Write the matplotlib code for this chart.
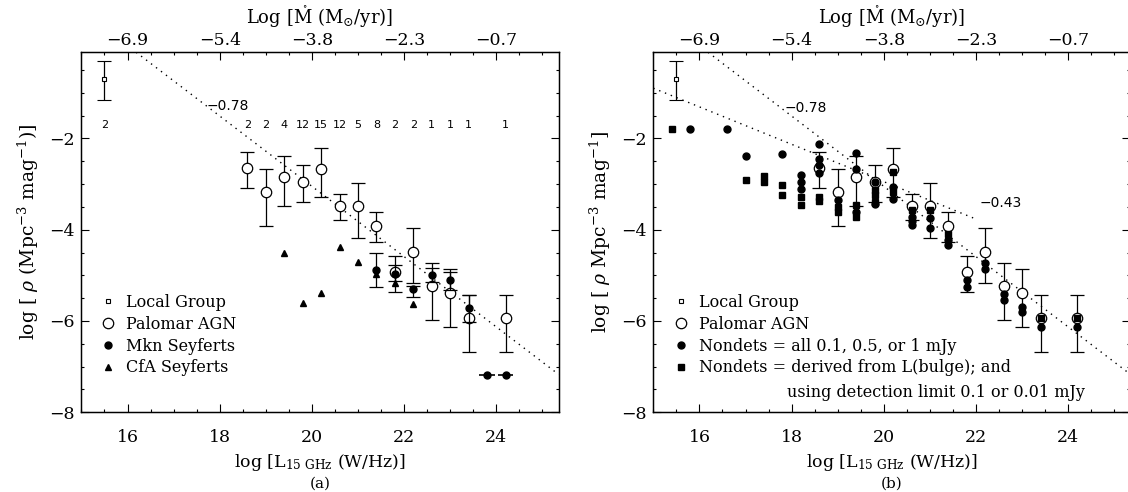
import matplotlib.pyplot as plt
from matplotlib.ticker import MultipleLocator
from matplotlib.lines import Line2D

plt.rcParams['font.family'] = ['DejaVu Serif']
plt.rcParams['mathtext.fontset'] = 'dejavuserif'

# ---- data ----
# Local Group
lg_L = [15.5]
lg_rho = [-0.69]
lg_hi = [-0.31]
lg_lo = [-1.16]
lg_count = 2

# Palomar AGN (same in both panels)
pal_L = [18.6, 19.0, 19.4, 19.8, 20.2, 20.6, 21.0, 21.4, 21.8, 22.2, 22.6, 23.0, 23.4, 24.2]
pal_rho = [-2.64, -3.18, -2.84, -2.95, -2.67, -3.48, -3.48, -3.92, -4.93, -4.49, -5.23, -5.38, -5.94, -5.94]
pal_hi = [-2.29, -2.67, -2.38, -2.58, -2.21, -3.21, -2.97, -3.62, -4.57, -3.97, -4.73, -4.87, -5.44, -5.44]
pal_lo = [-3.08, -3.92, -3.49, -3.39, -3.28, -3.78, -4.18, -4.27, -5.36, -5.16, -5.98, -6.13, -6.69, -6.69]
pal_count = [2, 2, 4, 12, 15, 12, 5, 8, 2, 2, 1, 1, 1, 1]

# Markarian Seyferts
mkn_L = [21.4, 21.8, 22.2, 22.6, 23.0, 23.4]
mkn_rho = [-4.89, -4.98, -5.31, -5.00, -5.11, -5.71]
mkn_hi = [-4.51, -4.77, -5.24, -4.85, -4.92, -5.44]
mkn_lo = [-5.25, -5.13, -5.47, -5.15, -5.33, -6.02]
mkn_lim_L = [23.8, 24.2]
mkn_lim_rho = [-7.19, -7.19]

# CfA Seyferts
cfa_L = [19.4, 19.8, 20.2, 20.6, 21.0, 21.4, 21.8, 22.2]
cfa_rho = [-4.52, -5.60, -5.38, -4.38, -4.71, -4.98, -5.16, -5.62]

# panel (b): non-detection treatments
nd_all_L = [15.8, 16.6, 17.0, 17.8, 18.2, 18.2, 18.2, 18.6, 18.6, 18.6, 18.6, 19.0,
            19.4, 19.4, 19.4, 19.8, 19.8, 20.2, 20.2, 20.6, 20.6, 20.6, 21.0, 21.0,
            21.4, 21.4, 21.8, 21.8, 22.2, 22.2, 22.6, 22.6, 23.0, 23.0, 23.4, 24.2]
nd_all_rho = [-1.80, -1.80, -2.38, -2.34, -2.80, -2.95, -3.11, -2.13, -2.45, -2.59, -2.75, -3.35,
              -2.31, -2.67, -3.61, -2.95, -3.44, -3.06, -3.32, -3.72, -3.81, -3.90, -3.75, -3.97,
              -4.22, -4.33, -5.11, -5.25, -4.74, -4.87, -5.40, -5.55, -5.69, -5.80, -6.13, -6.13]
nd_bulge_L = [15.4, 17.0, 17.4, 17.4, 17.8, 17.8, 18.2, 18.2, 18.6, 18.6, 19.0, 19.0,
              19.4, 19.4, 19.8, 19.8, 19.8, 20.2, 20.2, 20.6, 21.0, 21.4, 23.4, 24.2]
nd_bulge_rho = [-1.80, -2.91, -2.83, -2.96, -3.02, -3.24, -3.29, -3.45, -3.29, -3.37, -3.50, -3.61,
                -3.46, -3.73, -3.13, -3.24, -3.40, -2.74, -3.17, -3.57, -3.57, -4.10, -5.94, -5.94]

# fitted slopes
fit1_L = [15.0, 25.35]
fit1_rho = [0.80, -7.17]      # slope -0.78
fit2_L = [15.0, 22.03]
fit2_rho = [-0.90, -3.78]     # slope -0.43

bottom_ticks = [16, 18, 20, 22, 24]
top_labels = ['\u22126.9', '\u22125.4', '\u22123.8', '\u22122.3', '\u22120.7']

SANS = ['DejaVu Sans']


def errs(v, hi, lo):
    return [[a - b for a, b in zip(v, lo)], [b - a for a, b in zip(v, hi)]]


def setup(ax, ylab, tag, ylab_x):
    ax.set_xlim(15, 25.35)
    ax.set_ylim(-8, -0.1)
    ax.set_xticks(bottom_ticks)
    ax.set_yticks([-8, -6, -4, -2])
    ax.xaxis.set_minor_locator(MultipleLocator(0.5))
    ax.yaxis.set_minor_locator(MultipleLocator(0.5))
    ax.tick_params(which='both', direction='in', right=True, top=False, width=0.8)
    ax.tick_params(which='major', length=5.5, labelsize=12.5)
    ax.tick_params(which='minor', length=2.5)
    ax.tick_params(axis='x', pad=12)
    ax.tick_params(axis='y', pad=5)
    for s in ax.spines.values():
        s.set_linewidth(1.0)
    top = ax.twiny()
    top.set_xlim(ax.get_xlim())
    top.set_xticks(bottom_ticks)
    top.set_xticklabels(top_labels)
    top.xaxis.set_minor_locator(MultipleLocator(0.5))
    top.tick_params(which='both', direction='in', width=0.8, pad=2)
    top.tick_params(which='major', length=5.5, labelsize=12.5)
    top.tick_params(which='minor', length=2.5)
    ax.text(0.5, 1.098, r'Log [$\mathring{\rm M}$ (M$_{\odot}$/yr)]', transform=ax.transAxes,
            ha='center', va='center', fontsize=13)
    ax.text(0.5, -0.14, r'log [L$_{\rm 15\ GHz}$ (W/Hz)]', transform=ax.transAxes,
            ha='center', va='center', fontsize=12.5)
    ax.text(0.5, -0.197, tag, transform=ax.transAxes, ha='center', va='center', fontsize=11)
    ax.text(ylab_x, 0.5, ylab, transform=ax.transAxes, rotation=90,
            ha='center', va='center', fontsize=13.5)


fig = plt.figure(figsize=(11.28, 4.92), dpi=100)
axa = fig.add_axes([0.0722, 0.162, 0.423, 0.733])
axb = fig.add_axes([0.5792, 0.162, 0.423, 0.733])

setup(axa, r'log [ $\rho$ (Mpc$^{-3}$ mag$^{-1}$)]', '(a)', -0.112)
setup(axb, r'log [ $\rho$ Mpc$^{-3}$ mag$^{-1}$]', '(b)', -0.110)

ebkw = dict(ecolor='black', elinewidth=0.9, capsize=5, capthick=0.9, linestyle='none')

for ax in (axa, axb):
    ax.plot(fit1_L, fit1_rho, color='black', lw=1.0, linestyle=(0, (1, 3.5)))
    ax.errorbar(lg_L, lg_rho, yerr=errs(lg_rho, lg_hi, lg_lo), fmt='s', ms=3.5,
                mfc='white', mec='black', mew=0.8, **ebkw)
    ax.errorbar(pal_L, pal_rho, yerr=errs(pal_rho, pal_hi, pal_lo), fmt='o', ms=7.5,
                mfc='white', mec='black', mew=0.9, zorder=2, **ebkw)

# ---- panel (a) ----
axa.errorbar(mkn_L, mkn_rho, yerr=errs(mkn_rho, mkn_hi, mkn_lo), fmt='o', ms=5,
             mfc='black', mec='black', zorder=3, **ebkw)
axa.errorbar(mkn_lim_L, mkn_lim_rho, xerr=0.17, fmt='o', ms=5, color='black',
             elinewidth=1.2, capsize=0, linestyle='none', zorder=3)
axa.plot(cfa_L, cfa_rho, '^', ms=4, color='black', zorder=3)
axa.text(lg_L[0], -1.71, str(lg_count), ha='center', va='center', fontsize=8, family=SANS)
for x, n in zip(pal_L, pal_count):
    axa.text(x, -1.71, str(n), ha='center', va='center', fontsize=8, family=SANS)
axa.text(17.72, -1.29, '\u22120.78', ha='left', va='center', fontsize=10, family=SANS)

leg_kw = dict(loc='upper left', frameon=False, fontsize=11.5, borderpad=0, borderaxespad=0,
              handlelength=1.0, handletextpad=0.6, labelspacing=0.3)

leg_a = [Line2D([], [], ls='none', marker='s', ms=3.5, mfc='white', mec='black', mew=0.8),
         Line2D([], [], ls='none', marker='o', ms=7.5, mfc='white', mec='black', mew=0.9),
         Line2D([], [], ls='none', marker='o', ms=5, color='black'),
         Line2D([], [], ls='none', marker='^', ms=4, color='black')]
axa.legend(leg_a, ['Local Group', 'Palomar AGN', 'Mkn Seyferts', 'CfA Seyferts'],
           bbox_to_anchor=(0.039, 0.328), **leg_kw)

# ---- panel (b) ----
axb.plot(fit2_L, fit2_rho, color='black', lw=1.0, linestyle=(0, (1, 3.5)))
axb.plot(nd_all_L, nd_all_rho, 'o', ms=5, color='black', zorder=3)
axb.plot(nd_bulge_L, nd_bulge_rho, 's', ms=4, color='black', zorder=3)
axb.text(17.84, -1.33, '\u22120.78', ha='left', va='center', fontsize=10, family=SANS)
axb.text(22.07, -3.41, '\u22120.43', ha='left', va='center', fontsize=10, family=SANS)

leg_b = [Line2D([], [], ls='none', marker='s', ms=3.5, mfc='white', mec='black', mew=0.8),
         Line2D([], [], ls='none', marker='o', ms=7.5, mfc='white', mec='black', mew=0.9),
         Line2D([], [], ls='none', marker='o', ms=5, color='black'),
         Line2D([], [], ls='none', marker='s', ms=4, color='black')]
axb.legend(leg_b, ['Local Group', 'Palomar AGN', 'Nondets = all 0.1, 0.5, or 1 mJy',
                   'Nondets = derived from L(bulge); and'],
           bbox_to_anchor=(0.042, 0.328), **leg_kw)
axb.text(0.281, 0.0546, 'using detection limit 0.1 or 0.01 mJy', transform=axb.transAxes,
         ha='left', va='center', fontsize=11.5)

fig.savefig('out.png', dpi=100)
